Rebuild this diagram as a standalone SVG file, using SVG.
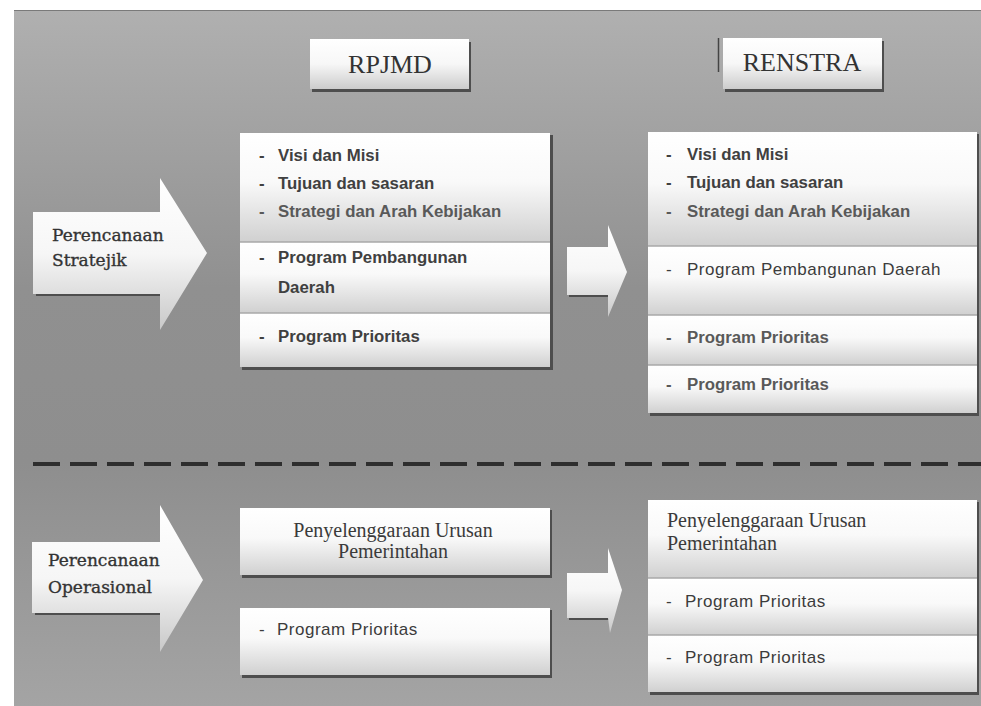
<svg xmlns="http://www.w3.org/2000/svg" width="981" height="706" viewBox="0 0 981 706">
<defs>
<linearGradient id="bg" x1="0" y1="0" x2="0" y2="1">
<stop offset="0" stop-color="#b0b0b0"/>
<stop offset="0.4" stop-color="#909090"/>
<stop offset="0.65" stop-color="#8e8e8e"/>
<stop offset="1" stop-color="#a4a4a4"/>
</linearGradient>
<linearGradient id="seg" x1="0" y1="0" x2="0" y2="1">
<stop offset="0" stop-color="#ffffff"/>
<stop offset="0.45" stop-color="#f9f9f9"/>
<stop offset="1" stop-color="#d0d0d0"/>
</linearGradient>
<linearGradient id="arr" x1="0" y1="0" x2="0" y2="1">
<stop offset="0" stop-color="#ffffff"/>
<stop offset="0.5" stop-color="#f6f6f6"/>
<stop offset="1" stop-color="#c8c8c8"/>
</linearGradient>
<linearGradient id="hdr" x1="0" y1="0" x2="0" y2="1">
<stop offset="0" stop-color="#ffffff"/>
<stop offset="0.5" stop-color="#f7f7f7"/>
<stop offset="1" stop-color="#cccccc"/>
</linearGradient>
</defs>
<style>
.seg{fill:url(#seg);}
.div{stroke:#a8a8a8;stroke-width:1.5;}
.shadow{fill:#4e4e4e;}
.arrow{fill:url(#arr);}
.hdr{fill:url(#hdr);}
.ht{font-family:"Liberation Serif",serif;font-size:26px;fill:#333;text-anchor:middle;}
.lbl{font-family:"DejaVu Serif",serif;font-size:17px;fill:#333;stroke:#333;stroke-width:0.35px;}
.st{font-family:"Liberation Serif",serif;font-size:20px;fill:#3a3a3a;}
.b{font-family:"Liberation Sans",Arial,sans-serif;font-size:16.8px;font-weight:bold;fill:#404040;}
.b2{font-family:"Liberation Sans",Arial,sans-serif;font-size:16.8px;font-weight:bold;fill:#595959;}
.r{font-family:"Liberation Sans",Arial,sans-serif;font-size:17px;letter-spacing:0.5px;fill:#3c3c3c;}
.dash{stroke:#2e2e2e;stroke-width:4;stroke-dasharray:27 10;fill:none;}
</style>
<rect x="0" y="0" width="981" height="706" fill="#ffffff"/>
<rect x="14" y="10" width="967" height="696" fill="url(#bg)"/>
<line x1="14" y1="10.5" x2="981" y2="10.5" stroke="#7a7a7a" stroke-width="1"/>

<g id="header-rpjmd">
<rect x="312" y="42" width="159" height="50" class="shadow"/>
<rect x="310" y="39" width="159" height="50" class="hdr"/>
<text x="390" y="73" class="ht">RPJMD</text>
</g>

<g id="header-renstra">
<line x1="718.5" y1="38" x2="718.5" y2="72" stroke="#444" stroke-width="1.5"/>
<rect x="725" y="41" width="159" height="51" class="shadow"/>
<rect x="723" y="38" width="159" height="51" class="hdr"/>
<text x="802" y="71" class="ht">RENSTRA</text>
</g>

<g id="arrow-strategik">
<rect x="36" y="292" width="126" height="4" class="shadow"/>
<polygon points="33,212 160,212 160,178 207,253 160,330 160,294 33,294" class="arrow"/>
<text class="lbl"><tspan x="52" y="241">Perencanaan</tspan><tspan x="52" y="266">Stratejik</tspan></text>
</g>

<g id="rpjmd-strategik">
<rect x="242" y="135" width="311" height="235" class="shadow"/>
<rect x="240" y="133" width="310" height="109" class="seg"/>
<rect x="240" y="242" width="310" height="71" class="seg"/>
<rect x="240" y="313" width="310" height="54" class="seg"/>
<line x1="240" y1="242" x2="550" y2="242" class="div"/>
<line x1="240" y1="313" x2="550" y2="313" class="div"/>
<text class="b"><tspan x="259" y="161">-</tspan><tspan x="278" y="161">Visi dan Misi</tspan></text>
<text class="b"><tspan x="259" y="189">-</tspan><tspan x="278" y="189">Tujuan dan sasaran</tspan></text>
<text class="b2"><tspan x="259" y="217">-</tspan><tspan x="278" y="217">Strategi dan Arah Kebijakan</tspan></text>
<text class="b"><tspan x="259" y="263">-</tspan><tspan x="278" y="263">Program Pembangunan</tspan><tspan x="278" y="293">Daerah</tspan></text>
<text class="b"><tspan x="259" y="342">-</tspan><tspan x="278" y="342">Program Prioritas</tspan></text>
</g>

<g id="renstra-strategik">
<rect x="650" y="134" width="329" height="282" class="shadow"/>
<rect x="648" y="132" width="329" height="114" class="seg"/>
<rect x="648" y="246" width="329" height="69" class="seg"/>
<rect x="648" y="315" width="329" height="50" class="seg"/>
<rect x="648" y="365" width="329" height="48" class="seg"/>
<line x1="648" y1="246" x2="977" y2="246" class="div"/>
<line x1="648" y1="315" x2="977" y2="315" class="div"/>
<line x1="648" y1="365" x2="977" y2="365" class="div"/>
<text class="b"><tspan x="666" y="160">-</tspan><tspan x="687" y="160">Visi dan Misi</tspan></text>
<text class="b"><tspan x="666" y="188">-</tspan><tspan x="687" y="188">Tujuan dan sasaran</tspan></text>
<text class="b2"><tspan x="666" y="217">-</tspan><tspan x="687" y="217">Strategi dan Arah Kebijakan</tspan></text>
<text class="r"><tspan x="666" y="275">-</tspan><tspan x="687" y="275">Program Pembangunan Daerah</tspan></text>
<text class="b2"><tspan x="666" y="343">-</tspan><tspan x="687" y="343">Program Prioritas</tspan></text>
<text class="b2"><tspan x="666" y="390">-</tspan><tspan x="687" y="390">Program Prioritas</tspan></text>
</g>

<line x1="33" y1="464" x2="981" y2="464" class="dash"/>

<g id="arrow-operasional">
<rect x="35" y="611" width="127" height="4" class="shadow"/>
<polygon points="32,542 160,542 160,505 203,580 160,652 160,613 32,613" class="arrow"/>
<text class="lbl"><tspan x="48" y="566">Perencanaan</tspan><tspan x="48" y="593">Operasional</tspan></text>
</g>

<g id="rpjmd-urusan">
<rect x="242" y="510" width="310" height="68" class="shadow"/>
<rect x="240" y="508" width="310" height="67" class="seg"/>
<text class="st" text-anchor="middle"><tspan x="393" y="537">Penyelenggaraan Urusan</tspan><tspan x="393" y="558">Pemerintahan</tspan></text>
</g>

<g id="rpjmd-program">
<rect x="242" y="610" width="310" height="68" class="shadow"/>
<rect x="240" y="608" width="310" height="67" class="seg"/>
<text class="r"><tspan x="259" y="635">-</tspan><tspan x="277" y="635">Program Prioritas</tspan></text>
</g>

<g id="renstra-operasional">
<rect x="650" y="502" width="329" height="193" class="shadow"/>
<rect x="648" y="500" width="329" height="78" class="seg"/>
<rect x="648" y="578" width="329" height="57" class="seg"/>
<rect x="648" y="635" width="329" height="57" class="seg"/>
<line x1="648" y1="578" x2="977" y2="578" class="div"/>
<line x1="648" y1="635" x2="977" y2="635" class="div"/>
<text class="st"><tspan x="667" y="527">Penyelenggaraan Urusan</tspan><tspan x="667" y="550">Pemerintahan</tspan></text>
<text class="r"><tspan x="666" y="607">-</tspan><tspan x="685" y="607">Program Prioritas</tspan></text>
<text class="r"><tspan x="666" y="663">-</tspan><tspan x="685" y="663">Program Prioritas</tspan></text>
</g>

<g id="connectors">
<rect x="569" y="293" width="41" height="4" class="shadow"/>
<polygon points="567,247 608,247 608,225 627,272 608,317 608,295 567,295" class="arrow"/>
<rect x="569" y="616" width="41" height="4" class="shadow"/>
<polygon points="567,573 608,573 608,548 622,590 610,633 608,618 567,618" class="arrow"/>
</g>
</svg>
